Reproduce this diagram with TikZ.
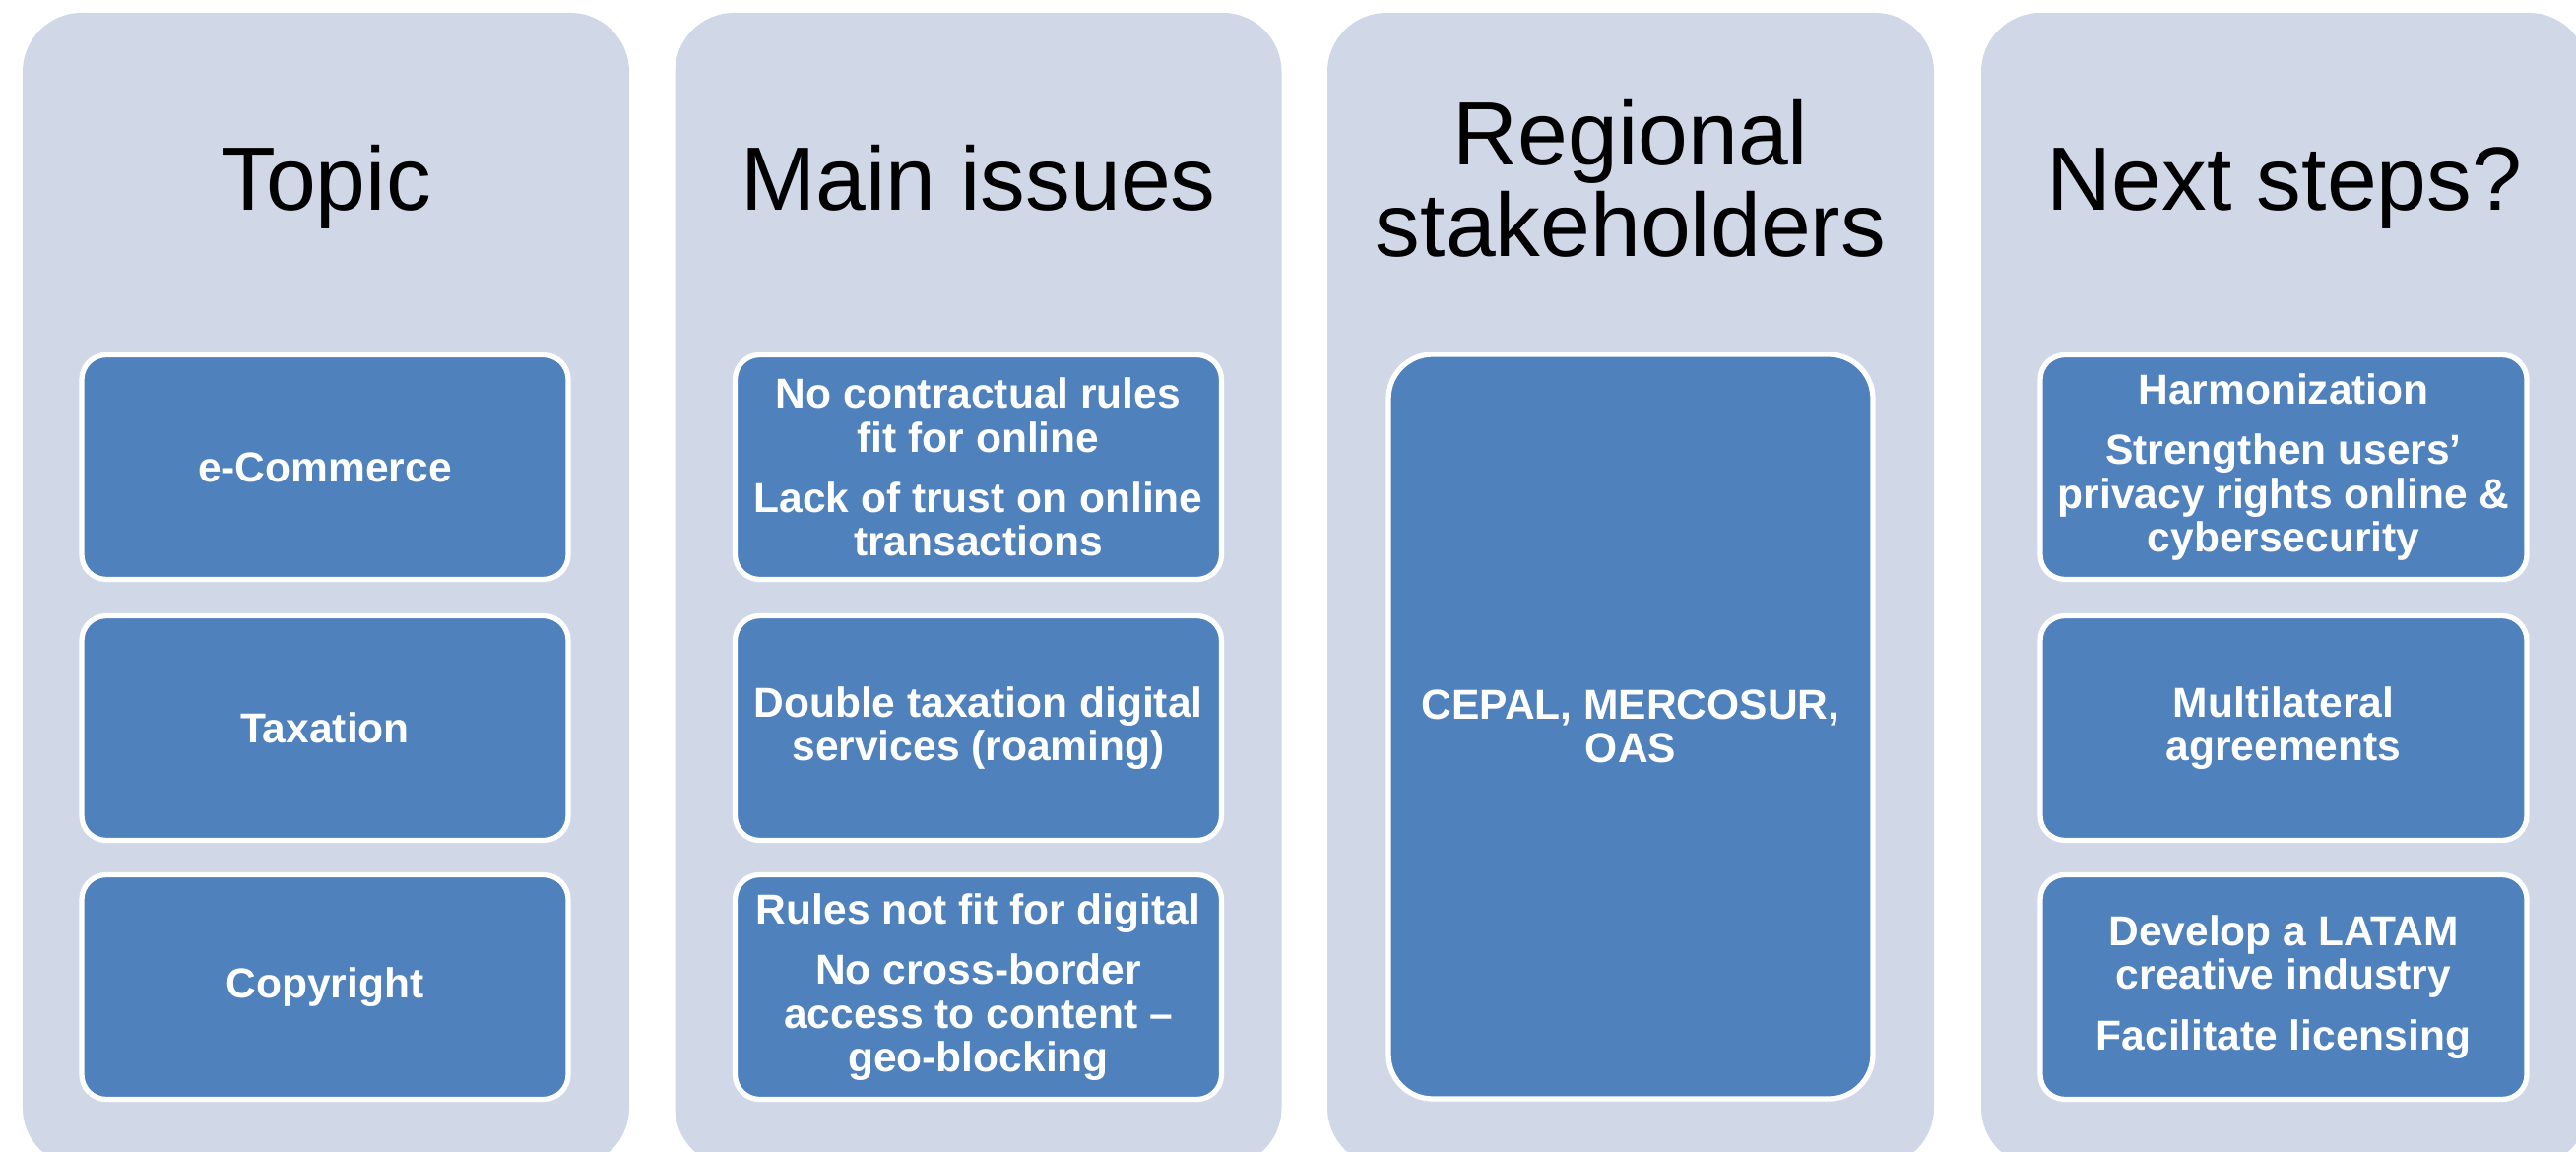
\documentclass[tikz,border=0pt]{standalone}
\usepackage{fontspec}
\setmainfont{Liberation Sans}
\definecolor{lanegray}{HTML}{D0D8E8}
\definecolor{itemblue}{HTML}{4F81BD}
\tikzset{
  lanebox/.style={fill=lanegray, rounded corners=0.6cm, minimum width=6.16cm, minimum height=11.72cm, inner sep=0pt},
  lanetitle/.style={align=center, font=\fontsize{26}{26.5}\selectfont},
  itembox/.style={fill=itemblue, draw=white, line width=1.5pt, rounded corners=0.25cm,
    minimum width=4.94cm, minimum height=2.28cm, inner sep=0pt, text=white, align=center,
    font=\bfseries\fontsize{12.1}{12.6}\selectfont},
}
\begin{document}
\begin{tikzpicture}
  \useasboundingbox (0, 0) rectangle (26.16, -11.70);
  % lanes
  \node[lanebox] (topiclane) at (3.31, -5.99) {};
  \node[lanebox] (issuelane) at (9.935, -5.99) {};
  \node[lanebox] (stakelane) at (16.56, -5.99) {};
  \node[lanebox] (steplane) at (23.20, -5.99) {};
  % titles
  \node[lanetitle, anchor=base] (topic) at (3.31, -2.14) {Topic};
  \node[lanetitle, anchor=base] (issues) at (9.935, -2.14) {Main issues};
  \node[lanetitle] (stakeholders) at (16.56, -1.81) {Regional\\stakeholders};
  \node[lanetitle, anchor=base] (steps) at (23.20, -2.14) {Next steps?};
  % topic items
  \node[itembox] (ecommerce) at (3.30, -4.745) {e-Commerce};
  \node[itembox] (taxation) at (3.30, -7.395) {Taxation};
  \node[itembox] (copyright) at (3.30, -10.025) {Copyright};
  % issue items
  \node[itembox] (contracts) at (9.935, -4.745) {No contractual rules\\fit for online\\[0.17cm]Lack of trust on online\\transactions};
  \node[itembox] (doubletax) at (9.935, -7.395) {Double taxation digital\\services (roaming)};
  \node[itembox] (geoblock) at (9.935, -10.025) {Rules not fit for digital\\[0.17cm]No cross-border\\access to content --\\geo-blocking};
  % stakeholder item
  \node[itembox, rounded corners=0.45cm, minimum width=4.92cm, minimum height=7.56cm] (regional) at (16.56, -7.38) {CEPAL, MERCOSUR,\\OAS};
  % step items
  \node[itembox] (harmonize) at (23.19, -4.745) {Harmonization\\[0.17cm]Strengthen users’\\privacy rights online \&\\cybersecurity};
  \node[itembox] (multilateral) at (23.19, -7.395) {Multilateral\\agreements};
  \node[itembox] (creative) at (23.19, -10.025) {Develop a LATAM\\creative industry\\[0.17cm]Facilitate licensing};
\end{tikzpicture}
\end{document}
